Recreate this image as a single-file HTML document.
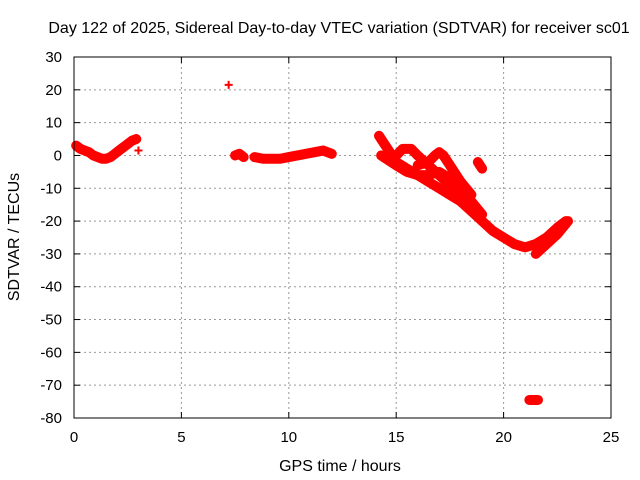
<!DOCTYPE html>
<html><head><meta charset="utf-8"><style>
body{margin:0;background:#fff;}
svg{display:block;font-family:"Liberation Sans",sans-serif;}
</style></head><body>
<svg id="chart" width="640" height="480">
<rect width="640" height="480" fill="#fff"/>
<text x="339" y="33" text-anchor="middle" font-size="16">Day 122 of 2025, Sidereal Day-to-day VTEC variation (SDTVAR) for receiver sc01</text>
<text x="340" y="471" text-anchor="middle" font-size="16">GPS time / hours</text>
<text transform="translate(19,237) rotate(-90)" text-anchor="middle" font-size="16">SDTVAR / TECUs</text>
<g id="grid"></g><g id="marks"></g>
<rect x="74" y="57" width="537" height="361" fill="none" stroke="#000" stroke-width="1"/>
</svg>
<script>
const xTicks=[0,5,10,15,20,25];
const yTicks=[30,20,10,0,-10,-20,-30,-40,-50,-60,-70,-80];
const s1h=[0.1,0.3,0.5,0.7,0.9,1.1,1.3,1.5,1.7,1.9,2.1,2.3,2.5,2.7,2.9];
const s1v=[3,2,1.5,1,0,-0.5,-1,-1,-0.5,0.5,1.5,2.5,3.5,4.5,5];
const s2h=[7.5,7.7,7.9];
const s2v=[0,0.5,-0.5];
const s3h=[8.4,8.8,9.2,9.6,10,10.4,10.8,11.2,11.6,12];
const s3v=[-0.5,-1,-1,-1,-0.5,0,0.5,1,1.5,0.5];
const s4h=[14.2,14.6,15,15.5,16,16.5,17,17.5,18,18.5,19,19.5,20,20.5,21,21.5,22,22.5,22.9];
const s4v=[6,2,-2,-4,-6,-8,-10,-12,-14,-17,-20,-23,-25,-27,-28,-27,-25,-22,-20];
const s5h=[14.3,15,15.5,16,16.5,17,17.5,18,18.5,19];
const s5v=[0,-3,-5,-6,-6,-5,-7,-10,-14,-18];
const s6h=[15,15.3,15.7,16,16.5,17,17.5,18,18.5];
const s6v=[0,2,2,0,-3,-6,-9,-12,-16];
const s7h=[16,16.5,16.8,17,17.2,17.5,18,18.5];
const s7v=[-3,-2,0,1,0,-3,-8,-12];
const s8h=[18.8,19];
const s8v=[-2,-4];
const s9h=[21.2,21.6];
const s9v=[-74.5,-74.5];
const s10h=[21.5,22,22.5,23];
const s10v=[-30,-27,-24,-20];
const ptH=[3.0,7.2];
const ptV=[1.5,21.5];
const series=[[s1h,s1v],[s2h,s2v],[s3h,s3v],[s4h,s4v],[s5h,s5v],[s6h,s6v],[s7h,s7v],[s8h,s8v],[s9h,s9v],[s10h,s10v]];
const X=h=>74+h*(537/25);
const Y=v=>57+(30-v)*(361/110);
const NS="http://www.w3.org/2000/svg";
const grid=document.getElementById('grid'),marks=document.getElementById('marks');
function mk(t,a,p){const e=document.createElementNS(NS,t);for(const k in a)e.setAttribute(k,a[k]);p.appendChild(e);return e;}
xTicks.forEach(t=>{
 const x=X(t);
 if(t>0&&t<25){const l=mk('line',{x1:x,x2:x,y1:57,y2:418,stroke:'#999','stroke-dasharray':'2,3'},grid);
 
 }
 mk('line',{x1:x,x2:x,y1:418,y2:412,stroke:'#000'},grid);
 mk('line',{x1:x,x2:x,y1:57,y2:63,stroke:'#000'},grid);
 const tx=mk('text',{x:x,y:442,'text-anchor':'middle','font-size':15},grid);tx.textContent=t;
 
 
});
yTicks.forEach(t=>{
 const y=Y(t);
 if(t<30&&t>-80){const l=mk('line',{x1:74,x2:611,y1:y,y2:y,stroke:'#999','stroke-dasharray':'2,3'},grid);
 
 }
 mk('line',{x1:74,x2:80,y1:y,y2:y,stroke:'#000'},grid);
 mk('line',{x1:605,x2:611,y1:y,y2:y,stroke:'#000'},grid);
 const tx=mk('text',{x:62,y:y+5,'text-anchor':'end','font-size':15},grid);tx.textContent=t;
 
 
});
series.forEach(([h,v])=>{
 const pts=h.map((hh,i)=>X(hh)+','+Y(v[i])).join(' ');
 const pl=mk('polyline',{points:pts,fill:'none',stroke:'#f00','stroke-width':10,'stroke-linejoin':'round','stroke-linecap':'round'},marks);
 
 
});
ptH.forEach((h,i)=>{
 const x=X(h),y=Y(ptV[i]);
 const p=mk('path',{d:`M${x-4},${y}H${x+4}M${x},${y-4}V${y+4}`,stroke:'#f00','stroke-width':2},marks);
 
 
});
</script>
</body></html>
